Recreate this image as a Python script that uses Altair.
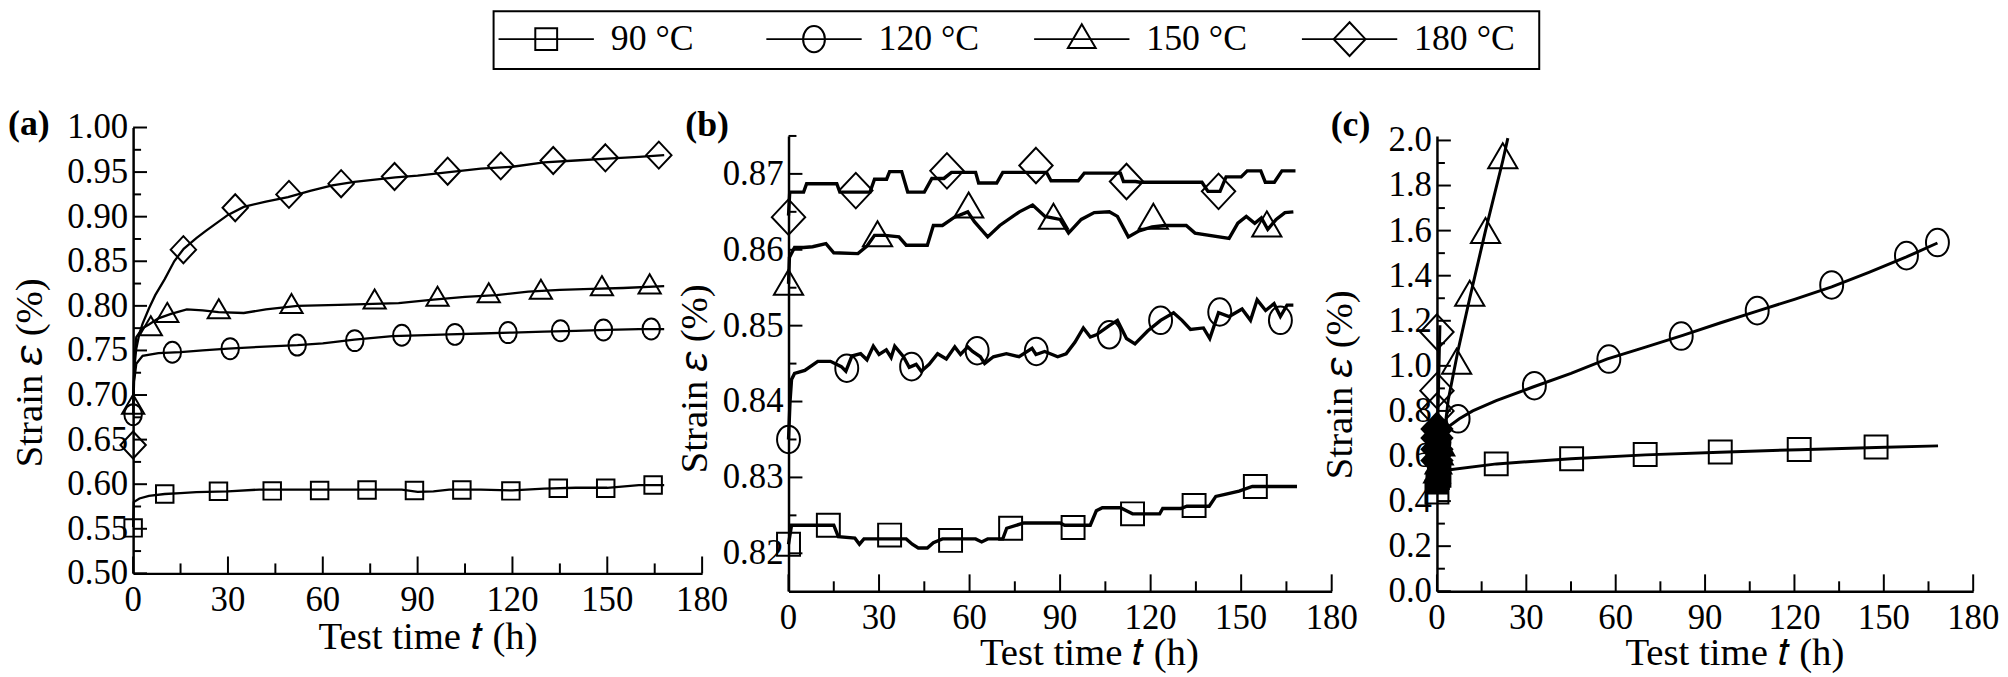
import altair as alt
import pandas as pd

FONT = "Liberation Serif"
SERIES = ["90 °C", "120 °C", "150 °C", "180 °C"]
X_MAJOR = [0, 30, 60, 90, 120, 150, 180]
X_MINOR = [15, 45, 75, 105, 135, 165]
X_TITLE = "Test time 𝑡 (h)"
Y_TITLE = "Strain 𝜀 (%)"

# ---------------- panel (a) ----------------
A90_LT = [0, 0.2, 2, 5, 10, 15, 20, 30, 40, 50, 60, 75, 85, 90, 95, 100, 110, 120, 130, 140, 150, 160, 168]
A90_LY = [0.552, 0.580, 0.584, 0.587, 0.589, 0.590, 0.591, 0.592, 0.594, 0.594, 0.594, 0.594, 0.594, 0.5915, 0.592, 0.594, 0.594, 0.593, 0.595, 0.596, 0.596, 0.599, 0.599]
A90_MT = [0, 10, 27, 44, 59, 74, 89, 104, 119.5, 134.5, 149.5, 164.5]
A90_MY = [0.551, 0.589, 0.592, 0.5925, 0.593, 0.5935, 0.593, 0.5935, 0.5925, 0.5955, 0.5955, 0.599]

A120_LT = [0, 0.3, 1, 3, 8, 15, 22, 30, 40, 52, 60, 70, 82, 90, 100, 110, 120, 130, 140, 150, 160, 168]
A120_LY = [0.678, 0.715, 0.735, 0.744, 0.747, 0.748, 0.750, 0.752, 0.754, 0.756, 0.758, 0.762, 0.766, 0.767, 0.768, 0.769, 0.770, 0.771, 0.772, 0.773, 0.774, 0.774]
A120_MT = [0, 12.4, 30.7, 51.9, 70.1, 85, 101.8, 118.6, 135.2, 148.8, 163.9]
A120_MY = [0.678, 0.748, 0.752, 0.756, 0.761, 0.767, 0.768, 0.770, 0.772, 0.773, 0.774]

A150_LT = [0, 0.4, 1, 3, 5, 8, 12, 17, 22, 27, 35, 42, 52, 65, 84, 95, 105, 115, 125, 135, 145, 155, 168]
A150_LY = [0.687, 0.740, 0.765, 0.775, 0.779, 0.786, 0.791, 0.796, 0.795, 0.793, 0.792, 0.796, 0.800, 0.801, 0.803, 0.807, 0.810, 0.812, 0.816, 0.818, 0.819, 0.820, 0.822]
A150_MT = [0, 5.6, 10.8, 27.1, 50.1, 76.4, 96.3, 112.5, 129, 148.3, 163.4]
A150_MY = [0.687, 0.775, 0.790, 0.794, 0.800, 0.805, 0.808, 0.812, 0.816, 0.820, 0.822]

A180_LT = [0, 0.5, 1, 2, 3, 5, 7, 10, 13, 16, 20, 23, 30, 35, 42, 49, 56, 63, 70, 83, 90, 100, 110, 120, 130, 140, 150, 160, 168]
A180_LY = [0.700, 0.735, 0.752, 0.769, 0.780, 0.797, 0.812, 0.830, 0.850, 0.864, 0.876, 0.884, 0.902, 0.911, 0.917, 0.922, 0.929, 0.935, 0.939, 0.944, 0.946, 0.950, 0.954, 0.956, 0.961, 0.963, 0.965, 0.967, 0.969]
A180_MT = [0, 15.9, 32.3, 49.3, 65.8, 82.7, 99.5, 116.3, 132.9, 149.4, 166.3]
A180_MY = [0.644, 0.863, 0.910, 0.925, 0.937, 0.945, 0.951, 0.957, 0.963, 0.966, 0.969]

# ---------------- panel (b) ----------------
B90_LT = [0, 1, 15, 16.5, 22, 23.5, 25, 26, 39, 41, 43, 46, 48, 51, 62, 64, 66, 68, 71, 72.3, 78, 90, 91.5, 100, 102, 104, 110, 114, 123, 124, 130, 132, 139.4, 141.6, 145, 149.3, 153.7, 168.5]
B90_LY = [0.8212, 0.8237, 0.8237, 0.8222, 0.8220, 0.8212, 0.8219, 0.8219, 0.8219, 0.8212, 0.8207, 0.8207, 0.8214, 0.8219, 0.8219, 0.8215, 0.8219, 0.8219, 0.8219, 0.8233, 0.8240, 0.8240, 0.8237, 0.8237, 0.8256, 0.8260, 0.8260, 0.8252, 0.8252, 0.8259, 0.8259, 0.8262, 0.8262, 0.8275, 0.8278, 0.8282, 0.8288, 0.8288]
B90_MT = [0, 13.2, 33.5, 53.7, 73.6, 94.3, 114, 134.4, 154.7]
B90_MY = [0.8212, 0.8237, 0.8224, 0.8217, 0.8233, 0.8234, 0.8252, 0.8263, 0.8288]

B120_LT = [0, 0.5, 1, 2, 5.4, 9.7, 13.9, 17.5, 19, 20, 21, 23.9, 26, 28.1, 30, 32.4, 34, 35.2, 38.1, 40, 42.3, 44, 46.6, 49.4, 52.3, 55.1, 57, 59.4, 61, 63.6, 65, 67.9, 72.2, 76.4, 80.7, 82, 84.9, 89.2, 92, 94.9, 97.7, 100, 102, 106.3, 109, 112, 114.8, 119, 123.3, 127.6, 130.4, 133.2, 137.5, 139.6, 142.5, 146, 150.3, 153.1, 155.3, 158.1, 160.9, 163, 165.2, 167.3]
B120_LY = [0.8350, 0.8400, 0.8429, 0.8437, 0.8441, 0.8453, 0.8453, 0.8446, 0.8440, 0.8450, 0.8460, 0.8463, 0.8455, 0.8473, 0.8462, 0.8468, 0.8458, 0.8473, 0.8459, 0.8445, 0.8449, 0.8440, 0.8449, 0.8463, 0.8456, 0.8472, 0.8462, 0.8472, 0.8466, 0.8459, 0.8450, 0.8459, 0.8463, 0.8459, 0.8470, 0.8462, 0.8466, 0.8459, 0.8463, 0.8478, 0.8497, 0.8485, 0.8488, 0.8500, 0.8507, 0.8483, 0.8476, 0.8493, 0.8507, 0.8517, 0.8507, 0.8495, 0.8497, 0.8483, 0.8517, 0.8512, 0.8522, 0.8507, 0.8534, 0.8520, 0.8529, 0.8512, 0.8527, 0.8527]
B120_MT = [0, 19.3, 40.8, 62.5, 82.1, 106.3, 123.3, 142.9, 163]
B120_MY = [0.8350, 0.8444, 0.8446, 0.8467, 0.8466, 0.8488, 0.8507, 0.8518, 0.8507]

B150_LT = [0, 0.3, 2, 5, 8, 12.4, 15, 23, 26, 28.5, 32, 36.6, 39, 46, 48, 51, 55, 59.4, 61.6, 66, 70, 76.5, 80.9, 85, 90, 92.8, 97, 101.3, 106.3, 109, 112.6, 116.2, 120.5, 124.7, 131.8, 134.7, 146, 148.9, 151.7, 154.5, 156.7, 158.8, 161.6, 164.5, 167.3]
B150_LY = [0.8555, 0.8590, 0.8603, 0.8603, 0.8604, 0.8608, 0.8596, 0.8595, 0.8605, 0.8619, 0.8619, 0.8617, 0.8606, 0.8606, 0.8632, 0.8632, 0.8643, 0.8650, 0.8637, 0.8617, 0.8632, 0.8650, 0.8659, 0.8644, 0.8640, 0.8622, 0.8640, 0.8649, 0.8650, 0.8644, 0.8617, 0.8625, 0.8630, 0.8632, 0.8632, 0.8622, 0.8615, 0.8635, 0.8644, 0.8635, 0.8642, 0.8627, 0.8640, 0.8649, 0.8650]
B150_MT = [0, 29.5, 59.7, 87.8, 120.9, 158.5]
B150_MY = [0.8553, 0.8617, 0.8655, 0.8640, 0.8640, 0.8630]

B180_LT = [0, 0.4, 5, 6, 16, 17, 27, 28.5, 32.5, 33.5, 37.5, 39.5, 45, 47.5, 51.5, 54, 62, 63, 69, 71, 85.5, 87, 96, 98, 110, 111, 115, 116.5, 137, 139, 143, 145, 150, 152, 156.5, 158, 161, 163.5, 168]
B180_LY = [0.8645, 0.8676, 0.8676, 0.8687, 0.8687, 0.8676, 0.8676, 0.8693, 0.8693, 0.8703, 0.8703, 0.8676, 0.8676, 0.8694, 0.8694, 0.8702, 0.8702, 0.8688, 0.8688, 0.8702, 0.8702, 0.8691, 0.8691, 0.8701, 0.8701, 0.8690, 0.8690, 0.8689, 0.8689, 0.8677, 0.8677, 0.8696, 0.8696, 0.8704, 0.8704, 0.8689, 0.8689, 0.8704, 0.8704]
B180_MT = [0, 22.3, 52.5, 82, 112, 142.5]
B180_MY = [0.8643, 0.8678, 0.8704, 0.8711, 0.8690, 0.8677]

# ---------------- panel (c) ----------------
C90_LT = [0, 3, 20, 45, 70, 95, 121.6, 147.4, 168.2]
C90_LY = [0.53, 0.537, 0.565, 0.588, 0.605, 0.617, 0.628, 0.638, 0.645]
C90_MT = [0, 19.9, 45.2, 69.9, 95.1, 121.6, 147.4]
C90_MY = [0.44, 0.565, 0.588, 0.607, 0.618, 0.629, 0.640]

C120_LT = [0, 1, 3.7, 7.5, 12, 19.9, 32, 45, 57, 70, 82.5, 95, 107.5, 120, 132.5, 145, 157.6, 168]
C120_LY = [0.60, 0.68, 0.728, 0.765, 0.80, 0.846, 0.905, 0.967, 1.03, 1.083, 1.135, 1.19, 1.243, 1.295, 1.35, 1.415, 1.483, 1.545]
C120_MT = [7.1, 32.7, 57.7, 82, 107.5, 132.5, 157.6, 168]
C120_MY = [0.765, 0.912, 1.03, 1.132, 1.245, 1.359, 1.489, 1.547]

C150_LT = [0, 1, 3.8, 7.1, 11, 16.3, 22.1, 23.8]
C150_LY = [0.50, 0.54, 0.85, 1.07, 1.30, 1.60, 1.91, 2.01]
C150_MT = [6.6, 11, 16.3, 22.1]
C150_MY = [1.007, 1.308, 1.587, 1.918]

C180_LT = [0, 0.3, 0.6, 1.0]
C180_LY = [0.55, 0.75, 0.95, 1.18]
C180_MT = [0, 0, 0]
C180_MY = [0.80, 0.89, 1.15]

# overlapping markers at t ~ 0 in (c), drawn as a solid cluster
K90_T = [0, 0.5, 1.0]
K90_Y = [0.48, 0.50, 0.51]
K120_T = [0, 0.5, 1.0]
K120_Y = [0.58, 0.62, 0.66]
K150_T = [0, 0.5, 1.0, 1.5]
K150_Y = [0.52, 0.56, 0.60, 0.64]
K180_T = [0, 0, 0, 0]
K180_Y = [0.58, 0.63, 0.68, 0.72]

# marker outlines (unit box, scaled by sqrt(size)/2)
P_SQUARE = "M-0.55,-0.55H0.55V0.55H-0.55Z"
P_CIRCLE = "M0.55,0A0.55,0.66 0 1,1 -0.55,0A0.55,0.66 0 1,1 0.55,0Z"
P_TRIANGLE = "M0,-0.75L0.7,0.45L-0.7,0.45Z"
P_DIAMOND = "M0,-0.85L0.8,0L0,0.85L-0.8,0Z"
SHAPES = [P_SQUARE, P_CIRCLE, P_TRIANGLE, P_DIAMOND]


def long_frame(groups):
    rows = []
    for name, ts, ys in groups:
        for t, y in zip(ts, ys):
            rows.append({"series": name, "t": t, "y": y})
    return pd.DataFrame(rows)


SHAPE_SCALE = alt.Scale(domain=SERIES, range=SHAPES)


def panel(lines, marks, ydom, yrange, xmax, xaxis_y, xoffset,
          ymajor, yminor, yfmt, ytx, yty, xtx, xty, msize, lw, label, ldx, ldy,
          cluster=None):
    xs = alt.Scale(domain=[0, 180], range=[0, xmax], nice=False, zero=False)
    ys = alt.Scale(domain=ydom, range=yrange, nice=False, zero=False)
    xaxis = alt.Axis(labels=False, ticks=False, grid=False, domainColor="black",
                     domainWidth=2.5, offset=xoffset)
    yaxis = alt.Axis(labels=False, ticks=False, grid=False, domainColor="black",
                     domainWidth=2.5)
    X = alt.X("t:Q", scale=xs, axis=xaxis, title=None)
    Y = alt.Y("y:Q", scale=ys, axis=yaxis, title=None)
    ymid = (ydom[0] + ydom[1]) / 2
    ymid_px = yrange[0] + (yrange[1] - yrange[0]) * (ymid - ydom[0]) / (ydom[1] - ydom[0])

    ymaj = alt.Chart(pd.DataFrame({"y": ymajor})).mark_rule(color="black", strokeWidth=2).encode(
        y=Y, x=alt.value(0), x2=alt.value(14))
    ymin = alt.Chart(pd.DataFrame({"y": yminor})).mark_rule(color="black", strokeWidth=2).encode(
        y=Y, x=alt.value(0), x2=alt.value(8))
    xmaj = alt.Chart(pd.DataFrame({"t": X_MAJOR})).mark_rule(color="black", strokeWidth=2).encode(
        x=X, y=alt.value(xaxis_y), y2=alt.value(xaxis_y - 17))
    xmin = alt.Chart(pd.DataFrame({"t": X_MINOR})).mark_rule(color="black", strokeWidth=2).encode(
        x=X, y=alt.value(xaxis_y), y2=alt.value(xaxis_y - 10))
    ylab = alt.Chart(pd.DataFrame({"t": [0] * len(ymajor), "y": ymajor})).mark_text(
        align="right", baseline="middle", font=FONT, fontSize=35, color="black", dx=-5).encode(
        x=X, y=Y, text=alt.Text("y:Q", format=yfmt))
    xlab = alt.Chart(pd.DataFrame({"t": X_MAJOR, "y": [ydom[0]] * len(X_MAJOR)})).mark_text(
        align="center", baseline="alphabetic", font=FONT, fontSize=35, color="black", dy=38).encode(
        x=X, y=Y, text=alt.Text("t:Q", format="d"))
    xtitle = alt.Chart(pd.DataFrame({"t": [90], "y": [ydom[0]], "s": [X_TITLE]})).mark_text(
        align="center", baseline="alphabetic", font=FONT, fontSize=39, color="black",
        dx=xtx - xmax / 2, dy=xty).encode(x=X, y=Y, text="s:N")
    ytitle = alt.Chart(pd.DataFrame({"t": [0], "y": [ymid], "s": [Y_TITLE]})).mark_text(
        align="center", baseline="middle", font=FONT, fontSize=39, color="black", angle=270,
        dx=ymid_px - yty, dy=ytx).encode(x=X, y=Y, text="s:N")
    line = alt.Chart(lines).mark_line(color="black", strokeWidth=lw).encode(
        x=X, y=Y, detail="series:N")
    pts = alt.Chart(marks).mark_point(filled=False, color="black", strokeWidth=2,
                                      size=msize, opacity=1).encode(
        x=X, y=Y, shape=alt.Shape("series:N", scale=SHAPE_SCALE, legend=None))
    lab = alt.Chart(pd.DataFrame({"t": [0], "y": [ydom[1]], "label": [label]})).mark_text(
        align="left", baseline="alphabetic", font=FONT, fontSize=36, fontWeight="bold",
        color="black", dx=ldx, dy=ldy).encode(x=X, y=Y, text="label:N")
    layers = [ymaj, ymin, xmaj, xmin, line, pts]
    if cluster is not None:
        layers.append(alt.Chart(cluster).mark_point(filled=True, color="black", size=msize,
                                                    opacity=1).encode(
            x=X, y=Y, shape=alt.Shape("series:N", scale=SHAPE_SCALE, legend=None)))
    layers += [ylab, xlab, xtitle, ytitle, lab]
    return alt.layer(*layers)


def legend_layers():
    key = pd.DataFrame({"series": SERIES})
    LX = alt.X("series:N", scale=alt.Scale(type="point", domain=SERIES, range=[416, 1225],
                                           padding=0), axis=None, title=None)
    LY = alt.value(-89)
    box = alt.Chart(pd.DataFrame({"series": [SERIES[0]]})).mark_rect(
        fillOpacity=0, stroke="black", strokeWidth=2).encode(
        x=alt.value(363), x2=alt.value(1416), y=alt.value(-117), y2=alt.value(-59))
    seg = alt.Chart(key).mark_rule(color="black", strokeWidth=2, xOffset=-48, x2Offset=48).encode(
        x=LX, x2=alt.X2("series:N"), y=LY)
    sym = alt.Chart(key).mark_point(filled=False, color="black", strokeWidth=2, size=1600,
                                    opacity=1).encode(
        x=LX, y=LY, shape=alt.Shape("series:N", scale=SHAPE_SCALE, legend=None))
    txt = alt.Chart(key).mark_text(align="left", baseline="middle", font=FONT, fontSize=36,
                                   color="black", dx=65).encode(x=LX, y=LY, text="series:N")
    return alt.layer(box, seg, sym, txt)


lines_a = long_frame([(SERIES[0], A90_LT, A90_LY), (SERIES[1], A120_LT, A120_LY),
                      (SERIES[2], A150_LT, A150_LY), (SERIES[3], A180_LT, A180_LY)])
marks_a = long_frame([(SERIES[0], A90_MT, A90_MY), (SERIES[1], A120_MT, A120_MY),
                      (SERIES[2], A150_MT, A150_MY), (SERIES[3], A180_MT, A180_MY)])
lines_b = long_frame([(SERIES[0], B90_LT, B90_LY), (SERIES[1], B120_LT, B120_LY),
                      (SERIES[2], B150_LT, B150_LY), (SERIES[3], B180_LT, B180_LY)])
marks_b = long_frame([(SERIES[0], B90_MT, B90_MY), (SERIES[1], B120_MT, B120_MY),
                      (SERIES[2], B150_MT, B150_MY), (SERIES[3], B180_MT, B180_MY)])
lines_c = long_frame([(SERIES[0], C90_LT, C90_LY), (SERIES[1], C120_LT, C120_LY),
                      (SERIES[2], C150_LT, C150_LY), (SERIES[3], C180_LT, C180_LY)])
marks_c = long_frame([(SERIES[0], C90_MT, C90_MY), (SERIES[1], C120_MT, C120_MY),
                      (SERIES[2], C150_MT, C150_MY), (SERIES[3], C180_MT, C180_MY)])
cluster_c = long_frame([(SERIES[0], K90_T, K90_Y), (SERIES[1], K120_T, K120_Y),
                        (SERIES[2], K150_T, K150_Y), (SERIES[3], K180_T, K180_Y)])

A_MAJ = [0.50, 0.55, 0.60, 0.65, 0.70, 0.75, 0.80, 0.85, 0.90, 0.95, 1.00]
A_MIN = [0.525, 0.575, 0.625, 0.675, 0.725, 0.775, 0.825, 0.875, 0.925, 0.975]
B_MAJ = [0.82, 0.83, 0.84, 0.85, 0.86, 0.87]
B_MIN = [0.825, 0.835, 0.845, 0.855, 0.865, 0.875]
C_MAJ = [0.0, 0.2, 0.4, 0.6, 0.8, 1.0, 1.2, 1.4, 1.6, 1.8, 2.0]
C_MIN = [0.1, 0.3, 0.5, 0.7, 0.9, 1.1, 1.3, 1.5, 1.7, 1.9]

core_a = panel(lines_a, marks_a, [0.5, 1.0], [449, 0], 573, 449, -18,
               A_MAJ, A_MIN, ".2f", -104, 247, 297, 76, 1024, 2.3, "(a)", -126, 8)
pa = alt.layer(core_a, legend_layers()).resolve_scale(x="independent").properties(
    width=573, height=467)
pb = panel(lines_b, marks_b, [0.815, 0.875], [467, 8.5], 547, 467, 0,
           B_MAJ, B_MIN, ".2f", -94, 253, 303, 74, 1764, 3.4, "(b)", -104, 0).properties(
    width=547, height=467)
pc = panel(lines_c, marks_c, [0.0, 2.02], [467, 8.5], 540, 467, 0,
           C_MAJ, C_MIN, ".1f", -98, 259, 300, 74, 1764, 3.0, "(c)", -107, 0,
           cluster=cluster_c).properties(width=540, height=467)

right_pair = alt.hconcat(pb, pc, spacing=106, bounds="flush")
chart = alt.hconcat(pa, right_pair, spacing=87, bounds="flush").configure_view(
    stroke=None).properties(padding={"left": 0, "top": 0, "right": 0, "bottom": 0},
                            background="white")

chart.save("out.html", embed_options={"renderer": "svg", "actions": False})
